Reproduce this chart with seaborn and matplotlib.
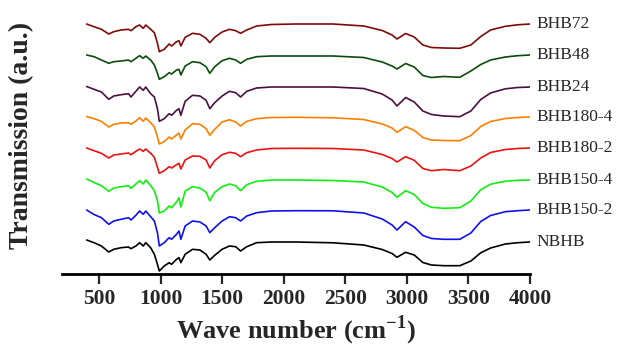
import numpy as np
import pandas as pd
import matplotlib
matplotlib.use('Agg')
import matplotlib.pyplot as plt
import seaborn as sns

# wavenumber nodes (cm-1)
wavenumber = [400, 460, 520, 580, 620, 680, 740, 760, 800, 830, 860, 880, 920, 950,
              975, 990, 1030, 1070, 1090, 1130, 1150, 1165, 1200, 1260, 1320, 1370,
              1400, 1440, 1500, 1560, 1610, 1650, 1700, 1780, 1900, 2100, 2400, 2650,
              2800, 2880, 2920, 2990, 3060, 3130, 3200, 3300, 3430, 3520, 3600, 3680,
              3800, 3900, 4000]

samples = ['BHB72', 'BHB48', 'BHB24', 'BHB180-4', 'BHB180-2', 'BHB150-4', 'BHB150-2', 'NBHB']
colors = ['#7f0a0a', '#0a4d0a', '#4a1040', '#ff7f00', '#ee1111', '#11ee11', '#1010ee', '#000000']
# vertical stacking of the spectra (a.u.)
offsets = [250, 219, 187, 157, 126, 94, 64, 32]

# band depth below each trace's baseline (a.u.)
bhb72 = [0, 2.7, 5.3, 10, 7.7, 6, 5.3, 6.7, 2.7, 1, 4.3, 1, 5.3, 8.7,
         19.3, 27.7, 25.3, 20, 22, 17.7, 16.7, 22, 13.3, 9.3, 10.3, 14.3,
         18.7, 13.3, 8, 5.3, 6.7, 9.3, 6, 2, 0.5, 0, 0, 2,
         6.5, 11, 15, 9.5, 13, 21, 23.5, 24, 24.3, 21, 12.5, 6,
         2.3, 0.8, 0]
bhb48 = [0, 1.7, 5, 8.3, 6.7, 6, 5, 6.7, 3.3, 0.7, 3.3, 1, 5, 10,
         18.3, 24.3, 21.7, 17.7, 19, 15, 14.3, 20, 11, 6.7, 7.7, 11.7,
         18.3, 11.7, 5.7, 3.3, 5, 8.3, 4.3, 1.7, 1, 1, 1, 2.5,
         7, 11, 14, 8.5, 12, 20.5, 22.5, 21.5, 22.3, 16, 9.5, 5,
         2, 0.7, 0]
bhb24 = [-0.5, 2.3, 5, 12.3, 9, 7.7, 6.7, 10, 4.3, 0, 3.3, 0, 6.7, 10,
         21.7, 34.3, 31.7, 26.7, 28.3, 23.3, 21.7, 28.3, 14.3, 8.3, 9, 13.3,
         21.7, 15.7, 9, 4.3, 5.7, 10, 4.3, 1, 0, 0, 0, 1.5,
         7, 13, 19, 10.5, 15, 24, 27.5, 29, 29.7, 24, 12.5, 6,
         1.8, 0.5, 0]
bhb180_4 = [-0.5, 1.7, 4.3, 10, 7.3, 6, 5.7, 7.3, 4, 0.7, 4.3, 1, 5.7, 10,
            20, 27, 24.5, 20, 22, 18, 16, 22, 13, 6.7, 7.3, 11.7,
            18.3, 12.3, 5, 2.7, 5, 9, 4.3, 1.7, 0.5, 0.3, 0.8, 2.5,
            7, 11, 15.3, 9.7, 13.3, 20.5, 23, 23.5, 23.7, 18.5, 9.5, 4.5,
            1.5, 0.5, 0]
bhb180_2 = [0, 2.7, 5.3, 10, 7, 6, 5, 6.7, 3.3, 1, 3.3, 1, 5.3, 9.3,
            19.3, 25.3, 22.7, 18.7, 20, 16.7, 15.3, 21, 12, 8, 8.3, 12,
            20, 12.7, 6.7, 4.3, 5.3, 8.7, 4.7, 2, 0.5, 0.3, 0.5, 2,
            6.5, 10.5, 14, 8.7, 12.3, 20.5, 22.7, 21.5, 22.7, 18, 10, 4.5,
            1.5, 0.5, 0]
bhb150_4 = [-1, 2.5, 5.7, 11.3, 8, 6.7, 5.7, 8.3, 4, 0.7, 4, 0, 5.7, 10.7,
            20.7, 33, 31, 26, 27.7, 22, 17.7, 27, 11, 6.7, 8, 12.3,
            20.7, 12.3, 6.7, 4, 5.7, 10.7, 4.7, 1.3, 0, 0, 0.5, 2,
            7, 12.5, 17.3, 10.7, 14.5, 23.5, 27.3, 28.3, 27.7, 21, 9.7, 4.2,
            1.2, 0.3, 0]
bhb150_2 = [0, 4.5, 7.7, 14.3, 11, 9.3, 7.7, 10, 5.3, 1, 4.3, 1, 6.7, 11,
            22.7, 36, 32.7, 27.7, 29.3, 24.3, 21, 29.3, 16, 11, 12, 16,
            22.7, 17.7, 11, 6.7, 7.7, 11, 6, 2.7, 1, 0.7, 0.8, 3,
            9, 15, 20, 11.7, 17, 25.5, 28.5, 29.3, 29.3, 23, 11.5, 5.5,
            1.7, 0.7, 0]
nbhb = [-2, 0.7, 4, 10, 7.3, 5.7, 5, 6.7, 4, 0.7, 4, 0.7, 5.7, 12.3,
        22.3, 29, 24, 20.7, 22.3, 17.3, 15.7, 20.7, 12.3, 7.3, 8, 12.3,
        18, 13.3, 7.3, 4, 4.7, 9, 4.7, 0.7, 0, 0, 0.8, 3,
        7.5, 11.5, 15.3, 10.3, 13, 20.5, 23, 23.7, 23.7, 19, 10.8, 6,
        2, 0.7, 0]

depths = [bhb72, bhb48, bhb24, bhb180_4, bhb180_2, bhb150_4, bhb150_2, nbhb]

rows = []
for name, off, d in zip(samples, offsets, depths):
    for w, v in zip(wavenumber, d):
        rows.append({'wn': w, 'T': off - v, 'sample': name})
df = pd.DataFrame(rows)

sns.set_style('white')
plt.rcParams['font.family'] = ['Liberation Serif', 'DejaVu Serif']
plt.rcParams['mathtext.fontset'] = 'custom'
plt.rcParams['mathtext.rm'] = 'Liberation Serif'
plt.rcParams['mathtext.bf'] = 'Liberation Serif:bold'

fig = plt.figure(figsize=(6.24, 3.56), dpi=100)
ax = fig.add_axes([62/624, 82/356, 468/624, 274/356])

sns.lineplot(data=df, x='wn', y='T', hue='sample', hue_order=samples,
             palette=dict(zip(samples, colors)), sort=False, estimator=None,
             linewidth=1.2, legend=False, ax=ax)

for name, off, c in zip(samples, offsets, colors):
    ax.text(4055, off, name, fontsize=12.5, va='center', ha='left', clip_on=False)

ax.set_xlim(200, 4000)
ax.set_ylim(0, 274)
ax.set_xticks([500, 1000, 1500, 2000, 2500, 3000, 3500, 4000])
ax.set_yticks([])
ax.set_ylabel('')
for s in ['top', 'right', 'left']:
    ax.spines[s].set_visible(False)
ax.spines['bottom'].set_linewidth(2)
ax.spines['bottom'].set_color('black')
ax.tick_params(axis='x', direction='out', length=7, width=1.6, pad=4,
               labelsize=15.5, bottom=True)
for lab in ax.get_xticklabels():
    lab.set_fontweight('bold')

ax.set_xlabel('Wave number (cm$^{\\mathbf{-1}}$)', fontsize=19, fontweight='bold', labelpad=3)
fig.text(22/624, 1 - 135/356, 'Transmission (a.u.)', rotation=90, fontsize=20,
         fontweight='bold', ha='center', va='center')

fig.savefig('out.png', dpi=100)
